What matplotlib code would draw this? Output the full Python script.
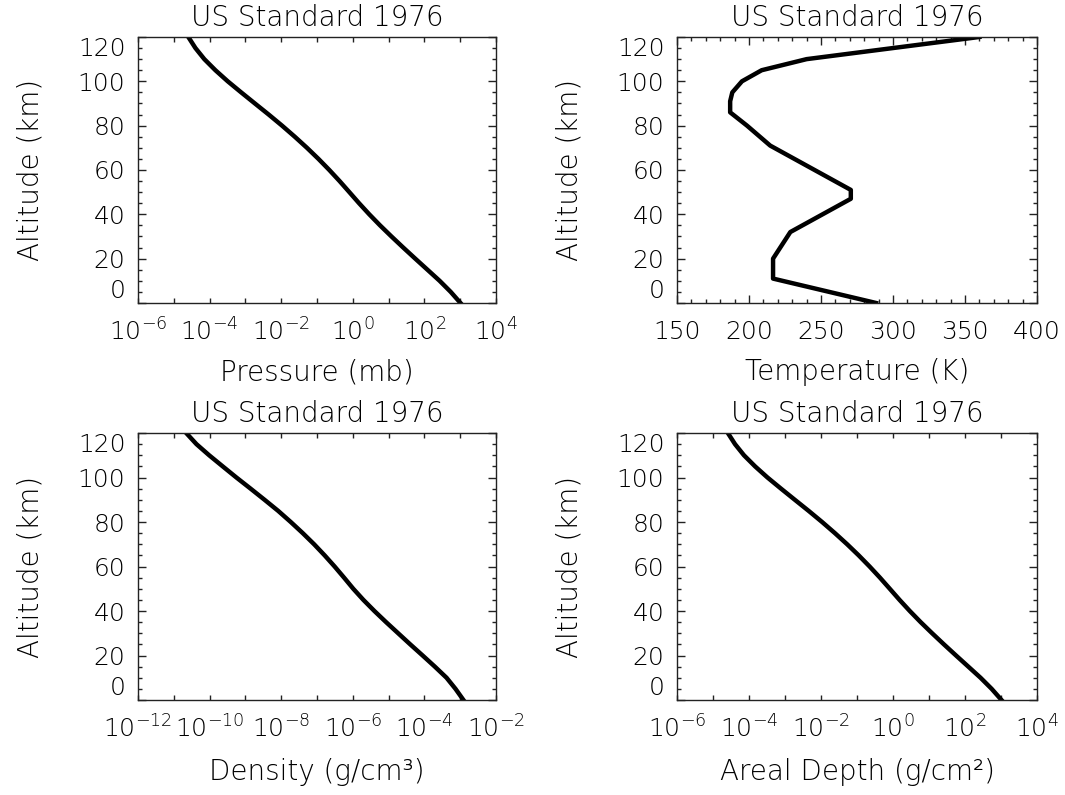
import numpy as np
import matplotlib
matplotlib.use("Agg")
import matplotlib.pyplot as plt
from matplotlib.ticker import MultipleLocator, NullLocator

# ── US Standard Atmosphere 1976 ──────────────────────────────────────
alt_km = [0, 5, 10, 15, 20, 25, 30, 35, 40, 45, 50, 55, 60,
          65, 70, 75, 80, 85, 90, 95, 100, 105, 110, 115, 120]

pressure_mb = [1013.25, 540.5, 265.0, 121.1, 55.29, 25.49, 11.97, 5.746,
               2.871, 1.491, 0.7978, 0.4253, 0.2196, 0.1093, 0.05221,
               0.02388, 0.01052, 0.004457, 0.001836, 7.597e-4, 3.201e-4,
               1.448e-4, 7.104e-5, 4.010e-5, 2.538e-5]

density_gcm3 = [1.225e-3, 7.364e-4, 4.135e-4, 1.948e-4, 8.891e-5, 4.008e-5,
                1.841e-5, 8.463e-6, 3.996e-6, 1.966e-6, 1.027e-6, 5.681e-7,
                3.097e-7, 1.632e-7, 8.283e-8, 3.992e-8, 1.846e-8, 8.220e-9,
                3.416e-9, 1.393e-9, 5.604e-10, 2.325e-10, 9.708e-11,
                4.289e-11, 2.222e-11]

areal_gcm2 = [1033.2, 551.2, 270.2, 123.5, 56.38, 25.99, 12.21, 5.859,
              2.928, 1.520, 0.8135, 0.4337, 0.2239, 0.1115, 0.05324,
              0.02435, 0.01073, 0.004545, 0.001872, 7.747e-4, 3.264e-4,
              1.477e-4, 7.244e-5, 4.089e-5, 2.588e-5]

# temperature profile has its own (break-point) altitude grid
temp_alt_km = [0, 11, 20, 32, 47, 51, 71, 80, 86, 91, 95, 100, 105, 110, 115, 120]
temp_K      = [288.2, 216.7, 216.7, 228.7, 270.7, 270.7, 214.7, 198.6,
               186.9, 186.9, 188.4, 195.1, 208.8, 240.0, 300.0, 360.0]

TITLE    = "US Standard 1976"
FS_TEXT  = 20   # titles and axis labels
FS_TICK  = 18   # tick labels

plt.rcParams['font.family'] = ['DejaVu Sans']
# thin strokes everywhere, like IDL's vector font
plt.rcParams['font.weight'] = 'light'
plt.rcParams['axes.titleweight'] = 'light'
plt.rcParams['axes.labelweight'] = 'light'
plt.rcParams['mathtext.fontset'] = 'dejavusans'

fig = plt.figure(figsize=(10.65, 7.95), dpi=100)

# axes boxes in figure fractions (left, bottom, width, height)
boxes = [
    [0.1296, 0.6189, 0.3362, 0.3346],
    [0.6357, 0.6189, 0.3380, 0.3346],
    [0.1296, 0.1195, 0.3362, 0.3358],
    [0.6357, 0.1195, 0.3380, 0.3358],
]

panels = [
    (pressure_mb,  alt_km,      "Pressure (mb)",            (-6, 4),   -0.207),
    (temp_K,       temp_alt_km, "Temperature (K)",          None,      -0.207),
    (density_gcm3, alt_km,      "Density (g/cm\u00b3)",     (-12, -2), -0.217),
    (areal_gcm2,   alt_km,      "Areal Depth (g/cm\u00b2)", (-6, 4),   -0.217),
]

for box, (xv, yv, xlabel, decades, xlab_y) in zip(boxes, panels):
    ax = fig.add_axes(box)
    ax.plot(xv, yv, color='black', lw=3.2, solid_joinstyle='round')

    if decades is not None:
        ax.set_xscale('log')
        lo, hi = decades
        exps = np.arange(lo, hi + 1)
        labels = [r'$10^{%d}$' % e if (e - lo) % 2 == 0 else '' for e in exps]
        ax.set_xticks(10.0 ** exps, labels)
        ax.xaxis.set_minor_locator(NullLocator())
        ax.set_xlim(10.0 ** lo, 10.0 ** hi)
        ax.tick_params(axis='x', which='major', length=3.5, pad=11)
    else:
        ax.set_xticks(np.arange(150, 401, 50))
        ax.xaxis.set_minor_locator(MultipleLocator(10))
        ax.set_xlim(150, 400)
        ax.tick_params(axis='x', which='major', length=5.5, pad=12)
        ax.tick_params(axis='x', which='minor', length=3)

    ax.set_ylim(0, 120)
    ax.set_yticks(np.arange(0, 121, 20))
    ax.yaxis.set_minor_locator(MultipleLocator(5))
    ax.tick_params(axis='y', which='major', length=5.5, pad=9)
    ax.tick_params(axis='y', which='minor', length=3)

    ax.tick_params(which='both', direction='in', top=True, right=True,
                   width=1.0, labelsize=FS_TICK, color='#222222')

    # IDL pulls the end labels inside the axis range
    yt = ax.yaxis.get_major_ticks()
    yt[0].label1.set_verticalalignment('bottom')
    yt[-1].label1.set_verticalalignment('top')

    for s in ax.spines.values():
        s.set_linewidth(1.0)
        s.set_color('#222222')

    ax.set_title(TITLE, fontsize=FS_TEXT, pad=8)
    ax.set_xlabel(xlabel, fontsize=FS_TEXT)
    ax.set_ylabel("Altitude (km)", fontsize=FS_TEXT)
    ax.xaxis.set_label_coords(0.5, xlab_y)
    ax.yaxis.set_label_coords(-0.26, 0.5)

fig.savefig("out.png", dpi=100, facecolor='white')
